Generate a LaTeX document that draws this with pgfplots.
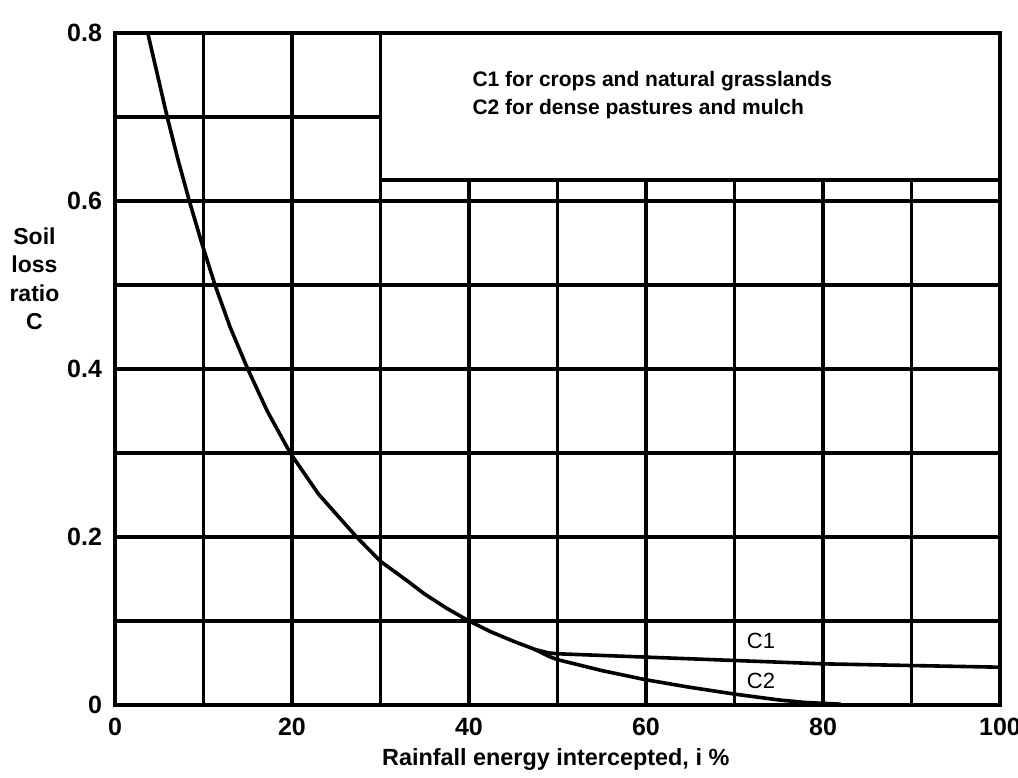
\documentclass[border=0pt]{standalone}
\usepackage{fontspec}
\setmainfont{Liberation Sans}
\usepackage{pgfplots}
\pgfplotsset{compat=1.18}
\pgfplotstableread{
x y
3.7 0.800
4.8 0.750
5.9 0.700
7.1 0.650
8.4 0.600
9.8 0.550
11.3 0.500
13.0 0.450
15.0 0.400
17.2 0.350
19.8 0.300
23.0 0.251
27.3 0.200
30.0 0.171
33.0 0.148
35.0 0.132
37.5 0.115
40.0 0.100
42.5 0.087
45.0 0.076
47.5 0.066
}\common
\pgfplotstableread{
x y
47.5 0.066
49.0 0.062
50.0 0.061
60.0 0.057
70.0 0.053
80.0 0.049
90.0 0.047
100.0 0.045
}\cone
\pgfplotstableread{
x y
47.5 0.066
49.0 0.058
50.0 0.054
55.0 0.041
60.0 0.030
65.0 0.021
70.0 0.013
75.0 0.006
78.0 0.003
82.0 0.001
}\ctwo
\begin{document}
\begin{tikzpicture}
\begin{axis}[
  scale only axis, width=442.5pt, height=336pt,
  xmin=0, xmax=100, ymin=0, ymax=0.8,
  clip=false,
  xtick={0,20,40,60,80,100},
  xticklabels={0,20,40,60,80,100},
  ytick={0,0.2,0.4,0.6,0.8},
  yticklabels={0,0.2,0.4,0.6,0.8},
  minor xtick={10,30,50,70,90},
  minor ytick={0.1,0.3,0.5,0.7},
  grid=both,
  major grid style={black, line width=1.8pt},
  minor grid style={black, line width=1.8pt},
  axis line style={black, line width=1.9pt},
  tick style={draw=none},
  ticklabel style={font=\fontsize{12.5}{14}\selectfont\bfseries},
  xticklabel style={yshift=-3pt},
  yticklabel style={xshift=-3pt},
  xlabel={Rainfall energy intercepted, i \%},
  xlabel style={font=\fontsize{11.7}{14}\selectfont\bfseries, at={(axis description cs:0.498,0)}, anchor=center, yshift=-27.5pt},
  ylabel={Soil\\loss\\ratio\\C},
  ylabel style={rotate=-90, align=center, font=\fontsize{11.5}{14.2}\selectfont\bfseries, at={(axis description cs:-0.091,0.634)}, anchor=center},
]
\addplot[black, line width=1.8pt, no marks, line join=round] table[x=x,y=y] {\common};
\addplot[black, line width=1.8pt, no marks, line join=round] table[x=x,y=y] {\cone};
\addplot[black, line width=1.8pt, no marks, line join=round] table[x=x,y=y] {\ctwo};
\draw[black, line width=1.8pt, fill=white] (axis cs:30,0.625) rectangle (axis cs:100,0.8);
\draw[black, line width=1.9pt] (rel axis cs:0,0) rectangle (rel axis cs:1,1);
\node[anchor=west, font=\fontsize{10.5}{13}\selectfont\bfseries] at (axis cs:39.6,0.743) {C1 for crops and natural grasslands};
\node[anchor=west, font=\fontsize{10.5}{13}\selectfont\bfseries] at (axis cs:39.6,0.710) {C2 for dense pastures and mulch};
\node[anchor=west, font=\fontsize{11}{13}\selectfont] at (axis cs:70.6,0.076) {C1};
\node[anchor=west, font=\fontsize{11}{13}\selectfont] at (axis cs:70.6,0.029) {C2};
\end{axis}
\pgfresetboundingbox
\path[use as bounding box] (-57.5pt,-36pt) rectangle (451.5pt,352.5pt);
\end{tikzpicture}
\end{document}
